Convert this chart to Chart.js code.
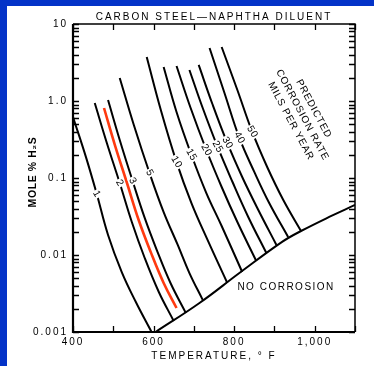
<!DOCTYPE html>
<html>
<head>
<meta charset="utf-8">
<script src="https://cdn.jsdelivr.net/npm/chart.js@4.4.1/dist/chart.umd.min.js"></script>
<style>
  html, body { margin: 0; padding: 0; background: #fff; }
</style>
</head>
<body>
<canvas id="chart-area" width="374" height="366"></canvas>
<script>
// values: temperature in deg F, mole % H2S (log)
var rates = ['1', '2', '3', '5', '10', '15', '20', '25', '30', '40', '50'];

var curveTemps = [
  [400, 432, 459, 487, 521, 556, 595],
  [454, 484, 516, 546, 578, 613, 650],
  [487, 516, 548, 578, 608, 642, 680],
  [516, 551, 590, 625, 660, 689, 722],
  [583, 618, 657, 694, 734, 783],
  [625, 657, 694, 731, 769, 820],
  [657, 692, 731, 769, 808, 855],
  [689, 722, 759, 796, 835, 880],
  [712, 746, 783, 820, 860, 905],
  [739, 776, 813, 850, 887, 934],
  [769, 808, 845, 882, 922, 966]
];
var curveH2S = [
  [0.62, 0.188, 0.062, 0.0182, 0.006, 0.00245, 0.001],
  [0.942, 0.285, 0.0861, 0.0268, 0.00914, 0.00331, 0.00139],
  [1.03, 0.312, 0.0914, 0.0303, 0.0116, 0.00433, 0.00177],
  [1.99, 0.488, 0.116, 0.0361, 0.0135, 0.00583, 0.00261],
  [3.73, 0.764, 0.161, 0.0473, 0.0157, 0.00433],
  [2.77, 0.72, 0.199, 0.0638, 0.0238, 0.00601],
  [2.85, 0.811, 0.231, 0.0764, 0.0268, 0.00835],
  [2.53, 0.811, 0.253, 0.0887, 0.0312, 0.0106],
  [2.94, 0.914, 0.285, 0.103, 0.0384, 0.0135],
  [4.88, 1.27, 0.331, 0.12, 0.0473, 0.0171],
  [5.03, 1.39, 0.396, 0.139, 0.0518, 0.0205]
];

// where the rate numbers sit on each curve
var labelTemps = [459, 516, 548, 590, 657, 694, 731, 759, 783, 813, 845];
var labelH2S = [0.062, 0.0861, 0.0914, 0.116, 0.161, 0.199, 0.231, 0.253, 0.285, 0.331, 0.396];

// red highlighted line
var redTemps = [477, 504, 534, 563, 593, 625, 657];
var redH2S = [0.811, 0.268, 0.0861, 0.0285, 0.0109, 0.00433, 0.00205];

// no corrosion boundary
var edgeTemps = [605, 714, 813, 919, 966, 1036, 1100];
var edgeH2S = [0.001, 0.00238, 0.00583, 0.0148, 0.0205, 0.0312, 0.0446];

var xLabels = { 400: '400', 600: '600', 800: '800', 1000: '1,000' };
var yLabels = { 0.001: '0.001', 0.01: '0.01', 0.1: '0.1', 1: '1.0', 10: '10' };
var yTicks = [0.001, 0.002, 0.003, 0.004, 0.005, 0.006, 0.007, 0.008, 0.009,
              0.01, 0.02, 0.03, 0.04, 0.05, 0.06, 0.07, 0.08, 0.09,
              0.1, 0.2, 0.3, 0.4, 0.5, 0.6, 0.7, 0.8, 0.9,
              1, 2, 3, 4, 5, 6, 7, 8, 9, 10];

function pts(ts, vs) {
  return ts.map(function(t, i) { return { x: t, y: vs[i] }; });
}

function line(label, data, color, width) {
  return {
    label: label,
    data: data,
    borderColor: color,
    borderWidth: width,
    pointRadius: 0,
    tension: 0.4
  };
}

var datasets = rates.map(function(r, i) {
  return line(r, pts(curveTemps[i], curveH2S[i]), '#000', 2);
});
datasets.push(line('red', pts(redTemps, redH2S), '#ff3a10', 2.6));
datasets.push(line('edge', pts(edgeTemps, edgeH2S), '#000', 2));

var backdrop = {
  id: 'backdrop',
  beforeDraw: function(chart) {
    var ctx = chart.ctx;
    ctx.fillStyle = '#0433c8';
    ctx.fillRect(0, 0, chart.width, chart.height);
    ctx.fillStyle = '#fff';
    ctx.fillRect(7, 6, chart.width - 7, chart.height - 6);
    ctx.letterSpacing = '2px';
  }
};

var annotations = {
  id: 'annotations',
  afterDatasetsDraw: function(chart) {
    var ctx = chart.ctx, xs = chart.scales.x, ys = chart.scales.y;
    ctx.save();
    ctx.letterSpacing = '0.5px';
    ctx.font = '10px "Liberation Sans", Arial, sans-serif';
    ctx.textAlign = 'center';
    ctx.textBaseline = 'middle';
    rates.forEach(function(r, i) {
      var px = xs.getPixelForValue(labelTemps[i]);
      var py = ys.getPixelForValue(labelH2S[i]);
      ctx.save();
      ctx.translate(px, py);
      ctx.rotate(60 * Math.PI / 180);
      var w = ctx.measureText(r).width + 2;
      ctx.fillStyle = '#fff';
      ctx.fillRect(-w / 2, -4, w, 8);
      ctx.fillStyle = '#000';
      ctx.fillText(r, 0, 0);
      ctx.restore();
    });

    ctx.letterSpacing = '1.5px';
    ctx.font = '10px "Liberation Sans", Arial, sans-serif';
    ctx.fillStyle = '#000';
    ctx.fillText('NO CORROSION', xs.getPixelForValue(929), ys.getPixelForValue(0.00384));

    ctx.save();
    ctx.translate(xs.getPixelForValue(969), ys.getPixelForValue(0.658));
    ctx.rotate(62 * Math.PI / 180);
    ctx.letterSpacing = '0.8px';
    ctx.fillText('PREDICTED', 0, -13);
    ctx.fillText('CORROSION RATE', 0, 0);
    ctx.fillText('MILS PER YEAR', 0, 13);
    ctx.restore();
    ctx.restore();
  },
  afterDraw: function(chart) {
    var ctx = chart.ctx, a = chart.chartArea, xs = chart.scales.x, ys = chart.scales.y;
    ctx.save();
    ctx.strokeStyle = '#000';
    ctx.lineWidth = 1.3;
    ctx.beginPath();
    xs.ticks.forEach(function(t) {
      var px = Math.round(xs.getPixelForValue(t.value)) + 0.5;
      ctx.moveTo(px, a.top); ctx.lineTo(px, a.top + 6);
      ctx.moveTo(px, a.bottom); ctx.lineTo(px, a.bottom - 6);
    });
    ys.ticks.forEach(function(t) {
      var py = Math.round(ys.getPixelForValue(t.value)) + 0.5;
      ctx.moveTo(a.left, py); ctx.lineTo(a.left + 6, py);
      ctx.moveTo(a.right, py); ctx.lineTo(a.right - 6, py);
    });
    ctx.stroke();

    ctx.lineWidth = 2.2;
    ctx.beginPath();
    ctx.moveTo(a.left, a.top); ctx.lineTo(a.left, a.bottom); ctx.lineTo(a.right, a.bottom);
    ctx.stroke();
    ctx.lineWidth = 1.5;
    ctx.beginPath();
    ctx.moveTo(a.left, a.top); ctx.lineTo(a.right, a.top); ctx.lineTo(a.right, a.bottom);
    ctx.stroke();

    // y axis title
    ctx.translate(33, (a.top + a.bottom) / 2 - 6);
    ctx.rotate(-Math.PI / 2);
    ctx.letterSpacing = '0.6px';
    ctx.font = 'bold 10.5px "Liberation Sans", Arial, sans-serif';
    ctx.fillStyle = '#000';
    ctx.textAlign = 'center';
    ctx.textBaseline = 'middle';
    ctx.fillText('MOLE % H\u2082S', 0, 0);
    ctx.restore();
  }
};

Chart.defaults.font.family = '"Liberation Sans", Arial, sans-serif';
Chart.defaults.color = '#000';

var ctx = document.getElementById('chart-area').getContext('2d');
var chart = new Chart(ctx, {
  type: 'line',
  data: { datasets: datasets },
  options: {
    responsive: false,
    animation: false,
    devicePixelRatio: 1,
    layout: { padding: { left: 0, right: 19, top: 5, bottom: 0 } },
    plugins: {
      legend: { display: false },
      tooltip: { enabled: false },
      title: {
        display: true,
        fullSize: false,
        text: 'CARBON STEEL\u2014NAPHTHA DILUENT',
        color: '#000',
        font: { size: 10, weight: 'normal' },
        padding: { top: 6, bottom: 1 }
      }
    },
    scales: {
      x: {
        type: 'linear',
        min: 400,
        max: 1100,
        grid: { display: false, drawTicks: false },
        border: { display: false },
        ticks: {
          stepSize: 100,
          autoSkip: false,
          maxRotation: 0,
          padding: 4,
          font: { size: 10 },
          callback: function(v) { return xLabels[v] || ''; }
        },
        title: {
          display: true,
          text: 'TEMPERATURE, \u00b0 F',
          font: { size: 10 },
          padding: { top: 0, bottom: 4 }
        },
        afterFit: function(s) { s.height = 34; }
      },
      y: {
        type: 'logarithmic',
        min: 0.001,
        max: 10,
        grid: { display: false, drawTicks: false },
        border: { display: false },
        afterBuildTicks: function(s) {
          s.ticks = yTicks.map(function(v) { return { value: v }; });
        },
        ticks: {
          autoSkip: false,
          padding: 5,
          font: { size: 10 },
          callback: function(v) { return yLabels[v] || ''; }
        },
        afterFit: function(s) { s.width = 73; }
      }
    }
  },
  plugins: [backdrop, annotations]
});
</script>
</body>
</html>
